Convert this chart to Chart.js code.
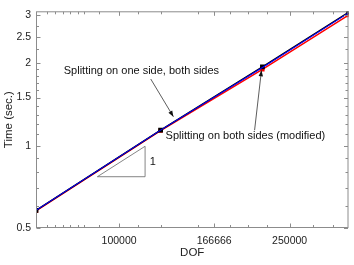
<!DOCTYPE html>
<html><head><meta charset="utf-8">
<script src="https://cdn.jsdelivr.net/npm/chart.js@4/dist/chart.umd.min.js"></script>
<style>html,body{margin:0;padding:0;background:#fff}#wrap{width:354px;height:265px;position:relative}</style>
</head><body><div id="wrap"><canvas id="c"></canvas></div>
<script>
// ---- data ----
const dof = [64000, 125000, 216000, 343000];
const timeOneSide = [0.58, 1.14, 1.94, 3.07];      // black
const timeBothSides = [0.58, 1.14, 1.93, 3.06];    // blue
const timeModified = [0.578, 1.135, 1.9, 3.0];     // red
const xTickValues = [100000, 166666, 250000];
const xTickLabels = ['100000', '166666', '250000'];
const xMinorTicks = [68000, 71000, 74000, 77000, 80000, 83000, 90000, 111000, 125000, 153000, 181000, 200000, 221000, 284000, 316000];
const yTickValues = [0.5, 1, 1.5, 2, 2.5, 3];
const yTickLabels = ['0.5', '1', '1.5', '2', '2.5', '3'];
const yMinorTicks = [0.6, 0.7, 0.8, 0.9, 1.1, 1.2, 1.3, 1.4, 1.6, 1.7, 1.8, 1.9, 2.25, 2.75];
const triangleX = [89000, 115000, 115000, 89000];
const triangleY = [0.77, 0.77, 0.995, 0.77];
const notes = [
  {text: 'Splitting on one side, both sides', x: 74300, y: 1.87},
  {text: 'Splitting on both sides (modified)', x: 128400, y: 1.084},
  {text: '1', x: 117900, y: 0.87}
];
const arrows = [
  {x0: 118550, y0: 1.753, x1: 133900, y1: 1.276},
  {x0: 207100, y0: 1.139, x1: 214900, y1: 1.886}
];

const FONT = "'Liberation Sans', Arial, Helvetica, sans-serif";
const pts = (xs, ys) => xs.map((x, i) => ({x: x, y: ys[i]}));

const framePlugin = {
  id: 'frame',
  afterDatasetsDraw(chart) {
    const {ctx, chartArea: a, scales: {x, y}} = chart;
    ctx.save();
    // annotations
    ctx.fillStyle = '#111';
    ctx.font = '11px ' + FONT;
    ctx.textBaseline = 'middle';
    ctx.textAlign = 'left';
    notes.forEach(n => ctx.fillText(n.text, x.getPixelForValue(n.x), y.getPixelForValue(n.y)));
    ctx.strokeStyle = '#333';
    ctx.fillStyle = '#111';
    ctx.lineWidth = 0.8;
    arrows.forEach(r => {
      const X0 = x.getPixelForValue(r.x0), Y0 = y.getPixelForValue(r.y0);
      const X1 = x.getPixelForValue(r.x1), Y1 = y.getPixelForValue(r.y1);
      ctx.beginPath(); ctx.moveTo(X0, Y0); ctx.lineTo(X1, Y1); ctx.stroke();
      const ang = Math.atan2(Y1 - Y0, X1 - X0), L = 6, W = 2.2;
      const bx = X1 - L * Math.cos(ang), by = Y1 - L * Math.sin(ang);
      ctx.beginPath();
      ctx.moveTo(X1, Y1);
      ctx.lineTo(bx + W * Math.sin(ang), by - W * Math.cos(ang));
      ctx.lineTo(bx - W * Math.sin(ang), by + W * Math.cos(ang));
      ctx.closePath(); ctx.fill();
    });
    // box + inward ticks
    ctx.strokeStyle = '#8c8c8c';
    ctx.lineWidth = 1;
    const L = a.left + 0.5, R = a.right - 0.5, T = a.top + 0.5, B = a.bottom - 0.5;
    ctx.strokeRect(L, T, R - L, B - T);
    ctx.beginPath();
    const xt = (v, len) => {
      const p = Math.round(x.getPixelForValue(v)) + 0.5;
      ctx.moveTo(p, B); ctx.lineTo(p, B - len);
      ctx.moveTo(p, T); ctx.lineTo(p, T + len);
    };
    const yt = (v, len) => {
      const p = Math.round(y.getPixelForValue(v)) + 0.5;
      ctx.moveTo(L, p); ctx.lineTo(L + len, p);
      ctx.moveTo(R, p); ctx.lineTo(R - len, p);
    };
    xTickValues.forEach(v => xt(v, 4));
    xMinorTicks.forEach(v => xt(v, 2.5));
    yTickValues.forEach(v => yt(v, 4));
    yMinorTicks.forEach(v => yt(v, 2.5));
    ctx.stroke();
    ctx.restore();
  }
};

new Chart(document.getElementById('c'), {
  type: 'scatter',
  data: {
    datasets: [
      {label: 'Splitting on both sides', data: pts(dof, timeBothSides), showLine: true,
       borderColor: '#0000ff', backgroundColor: '#0000ff', borderWidth: 1.1, pointRadius: 0, order: 1},
      {label: 'Splitting on one side', data: pts(dof, timeOneSide), showLine: true,
       borderColor: '#000000', backgroundColor: '#000000', borderWidth: 1.5, pointStyle: 'rect', pointRadius: 2.3, order: 2},
      {label: 'Splitting on both sides (modified)', data: pts(dof, timeModified), showLine: true,
       borderColor: '#ff0000', backgroundColor: '#ff0000', borderWidth: 1.5, pointStyle: 'rect', pointRadius: 2, order: 3},
      {label: 'slope', data: pts(triangleX, triangleY), showLine: true,
       borderColor: '#666', borderWidth: 0.8, pointRadius: 0, order: 4}
    ]
  },
  options: {
    responsive: true, maintainAspectRatio: false, animation: false,
    layout: {padding: {left: 0, right: 2, top: 4, bottom: 0}},
    plugins: {legend: {display: false}, tooltip: {enabled: false}},
    scales: {
      x: {
        type: 'logarithmic', min: 64000, max: 343000,
        afterBuildTicks: s => { s.ticks = xTickValues.map(v => ({value: v})); },
        afterFit: s => { s.height = 37; },
        grid: {display: false, drawTicks: false}, border: {display: false},
        ticks: {autoSkip: false, maxRotation: 0, padding: 7, color: '#222',
                font: {family: FONT, size: 10.5},
                callback: (v, i) => xTickLabels[i]},
        title: {display: true, text: 'DOF', color: '#222', font: {family: FONT, size: 11.5},
                padding: {top: 0, bottom: 5}}
      },
      y: {
        type: 'logarithmic', min: 0.5, max: 3.1,
        afterBuildTicks: s => { s.ticks = yTickValues.map(v => ({value: v})); },
        afterFit: s => { s.width = 36; },
        grid: {display: false, drawTicks: false}, border: {display: false},
        ticks: {autoSkip: false, padding: 5, color: '#222',
                font: {family: FONT, size: 10.5},
                callback: (v, i) => yTickLabels[i]},
        title: {display: true, text: 'Time (sec.)', color: '#222', font: {family: FONT, size: 11.5},
                padding: {top: 1.5, bottom: 0}}
      }
    }
  },
  plugins: [framePlugin]
});
</script>
</body></html>
